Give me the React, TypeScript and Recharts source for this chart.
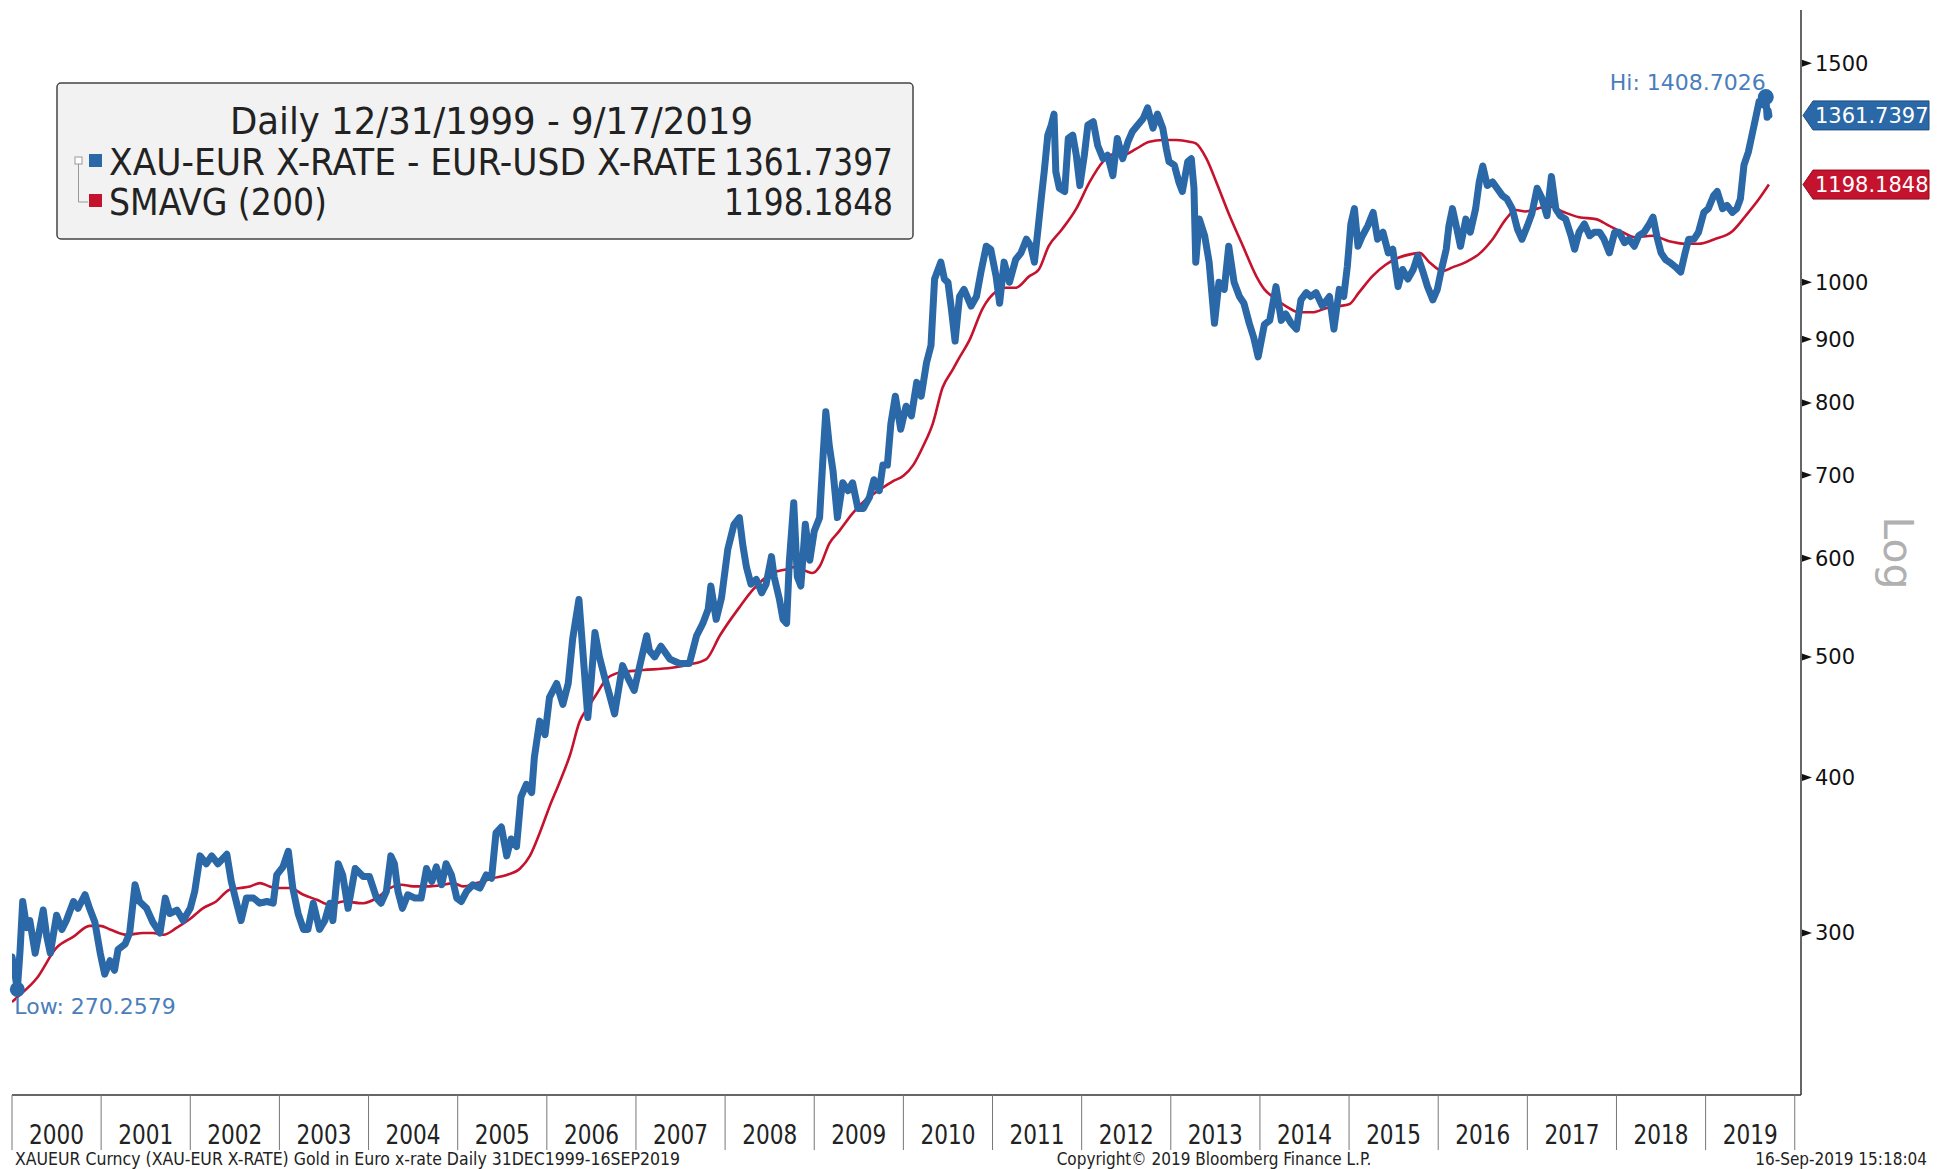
import React from "react";
import { LineChart, Line, XAxis, YAxis, ReferenceDot } from "recharts";

// ---------- data ----------
const goldT = [
  2000.0, 2000.03, 2000.06, 2000.09, 2000.12, 2000.165, 2000.2, 2000.26, 2000.31, 2000.35, 2000.39, 2000.43, 2000.5, 2000.56, 2000.61, 2000.69, 2000.74, 2000.82, 2000.87, 2000.93, 2000.99,
  2001.04, 2001.1, 2001.15, 2001.19, 2001.27, 2001.32, 2001.38, 2001.43, 2001.51, 2001.58, 2001.66, 2001.72, 2001.77, 2001.85, 2001.92,
  2002.0, 2002.05, 2002.11, 2002.18, 2002.24, 2002.31, 2002.41, 2002.46, 2002.52, 2002.57, 2002.63, 2002.71, 2002.78, 2002.86, 2002.93, 2002.97,
  2003.04, 2003.1, 2003.15, 2003.21, 2003.27, 2003.32, 2003.38, 2003.45, 2003.51, 2003.565, 2003.6, 2003.66, 2003.71, 2003.77, 2003.85, 2003.94,
  2004.01, 2004.09, 2004.14, 2004.2, 2004.25, 2004.29, 2004.33, 2004.38, 2004.44, 2004.52, 2004.59, 2004.65, 2004.71, 2004.76, 2004.82, 2004.87, 2004.93, 2004.99,
  2005.04, 2005.1, 2005.17, 2005.25, 2005.32, 2005.38, 2005.43, 2005.49, 2005.55, 2005.6, 2005.66, 2005.71, 2005.77, 2005.83, 2005.86, 2005.92, 2005.98,
  2006.03, 2006.11, 2006.18, 2006.24, 2006.29, 2006.36, 2006.4, 2006.46, 2006.5, 2006.54, 2006.59, 2006.65, 2006.7, 2006.76, 2006.82, 2006.85, 2006.91, 2006.98,
  2007.06, 2007.12, 2007.15, 2007.21, 2007.28, 2007.38, 2007.49, 2007.6, 2007.68, 2007.75, 2007.81, 2007.84, 2007.9, 2007.96,
  2008.03, 2008.1, 2008.16, 2008.2, 2008.24, 2008.29, 2008.35, 2008.41, 2008.46, 2008.52, 2008.55, 2008.61, 2008.65, 2008.69, 2008.72, 2008.77, 2008.81, 2008.85, 2008.9, 2008.95,
  2009.0, 2009.06, 2009.1, 2009.13, 2009.17, 2009.21, 2009.26, 2009.32, 2009.38, 2009.43, 2009.49, 2009.55, 2009.62, 2009.67, 2009.73, 2009.77, 2009.82, 2009.86, 2009.91, 2009.97,
  2010.03, 2010.09, 2010.15, 2010.2, 2010.26, 2010.31, 2010.35, 2010.42, 2010.46, 2010.5, 2010.54, 2010.58, 2010.63, 2010.68, 2010.76, 2010.82, 2010.87, 2010.93, 2010.98,
  2011.04, 2011.08, 2011.13, 2011.19, 2011.26, 2011.32, 2011.38, 2011.43, 2011.47, 2011.51, 2011.55, 2011.58, 2011.62, 2011.66, 2011.69, 2011.71, 2011.75, 2011.81, 2011.85, 2011.9, 2011.94, 2011.98,
  2012.03, 2012.07, 2012.13, 2012.18, 2012.24, 2012.29, 2012.35, 2012.4, 2012.46, 2012.52, 2012.57, 2012.63, 2012.69, 2012.74, 2012.8, 2012.85, 2012.91, 2012.95, 2012.98,
  2013.04, 2013.09, 2013.13, 2013.19, 2013.23, 2013.26, 2013.28, 2013.32, 2013.38, 2013.43, 2013.49, 2013.54, 2013.6, 2013.65, 2013.71, 2013.77, 2013.82, 2013.88, 2013.93, 2013.98,
  2014.05, 2014.11, 2014.18, 2014.24, 2014.29, 2014.35, 2014.41, 2014.46, 2014.52, 2014.57, 2014.63, 2014.7, 2014.78, 2014.83, 2014.89, 2014.94, 2014.98,
  2015.02, 2015.06, 2015.1, 2015.15, 2015.21, 2015.27, 2015.32, 2015.38, 2015.44, 2015.49, 2015.55, 2015.6, 2015.66, 2015.72, 2015.77, 2015.83, 2015.88, 2015.94, 2015.99,
  2016.03, 2016.09, 2016.12, 2016.16, 2016.21, 2016.25, 2016.31, 2016.36, 2016.42, 2016.46, 2016.5, 2016.55, 2016.61, 2016.66, 2016.72, 2016.77, 2016.83, 2016.89, 2016.94,
  2017.0, 2017.05, 2017.11, 2017.16, 2017.22, 2017.27, 2017.32, 2017.37, 2017.43, 2017.49, 2017.53, 2017.58, 2017.64, 2017.7, 2017.75, 2017.81, 2017.86, 2017.92, 2017.98,
  2018.03, 2018.09, 2018.14, 2018.2, 2018.25, 2018.31, 2018.37, 2018.41, 2018.46, 2018.5, 2018.55, 2018.61, 2018.66, 2018.72, 2018.77, 2018.81, 2018.87, 2018.92, 2018.98,
  2019.03, 2019.09, 2019.13, 2019.19, 2019.24, 2019.3, 2019.35, 2019.39, 2019.43, 2019.48, 2019.52, 2019.56, 2019.6, 2019.64, 2019.675, 2019.69, 2019.7, 2019.71,
];
const goldV = [
  287, 279, 270.26, 290, 318, 303, 307, 289, 302, 313, 298, 289, 310, 302, 307, 318, 314, 322, 314, 306, 289,
  278, 285, 280, 291, 294, 300, 328, 318, 314, 306, 300, 320, 311, 313, 307,
  314, 324, 346, 341, 346, 341, 347, 330, 317, 307, 320, 320, 317, 318, 317, 334,
  339, 349, 326, 311, 302, 302, 317, 302, 307, 317, 307, 341, 334, 314, 338, 333,
  333, 320, 317, 324, 346, 341, 324, 314, 322, 320, 320, 338, 330, 339, 328, 341, 334, 320,
  318, 324, 328, 326, 334, 332, 361, 365, 346, 357, 352, 386, 395, 389, 415, 444, 433,
  464, 476, 458, 476, 517, 556, 510, 447, 481, 523, 500, 481, 467, 450, 478, 492, 481, 470,
  498, 520, 506, 500, 510, 498, 494, 494, 520, 532, 546, 570, 536, 558,
  610, 639, 647, 614, 590, 572, 577, 563, 572, 602, 580, 556, 536, 532, 596, 665, 580, 570, 639, 598,
  631, 647, 727, 787, 738, 706, 647, 690, 680, 690, 658, 658, 672, 694, 680, 713, 713, 770, 810, 762,
  795, 781, 831, 810, 862, 890, 1006, 1038, 1006, 1000, 950, 897, 974, 987, 957, 974, 1019, 1069, 1063,
  1011, 962, 1038, 1000, 1043, 1056, 1083, 1069, 1038, 1103, 1174, 1227, 1313, 1338, 1365, 1227, 1190, 1183, 1305, 1313, 1265, 1196,
  1265, 1338, 1346, 1288, 1257, 1265, 1218, 1305, 1257, 1297, 1322, 1338, 1354, 1381, 1330, 1365, 1330, 1280, 1250,
  1242, 1204, 1183, 1250, 1257, 1190, 1038, 1124, 1090, 1038, 927, 1000, 987, 1069, 1000, 974, 962, 927, 903, 871,
  925, 932, 992, 932, 943, 927, 917, 968, 981, 974, 981, 957, 974, 917, 987, 974, 1029,
  1114, 1146, 1069, 1090, 1110, 1138, 1083, 1097, 1056, 1063, 992, 1024, 1006, 1024, 1050, 1019, 992, 968, 987,
  1019, 1063, 1110, 1146, 1103, 1069, 1124, 1097, 1146, 1204, 1240, 1196, 1204, 1190, 1174, 1167, 1146, 1103, 1083,
  1110, 1135, 1190, 1170, 1131, 1216, 1145, 1131, 1124, 1090, 1063, 1097, 1114, 1090, 1097, 1097, 1083, 1056, 1097,
  1097, 1076, 1083, 1069, 1090, 1097, 1114, 1128, 1083, 1056, 1043, 1036, 1029, 1019, 1056, 1083, 1083, 1097, 1138,
  1146, 1174, 1183, 1146, 1153, 1138, 1146, 1167, 1242, 1273, 1313, 1354, 1397, 1389, 1408.7026, 1357, 1375, 1361.7397,
];

const smaT = [
  2000.0, 2000.05, 2000.28, 2000.5, 2000.69, 2000.87, 2000.99, 2001.1, 2001.29, 2001.47, 2001.58, 2001.7, 2001.85,
  2002.0, 2002.14, 2002.29, 2002.44, 2002.56, 2002.67, 2002.78, 2002.89, 2002.97, 2003.12, 2003.27, 2003.42, 2003.57, 2003.71, 2003.94,
  2004.09, 2004.24, 2004.37, 2004.5, 2004.69, 2004.84, 2004.95, 2005.06, 2005.21, 2005.4, 2005.55, 2005.7, 2005.81, 2005.92,
  2006.03, 2006.14, 2006.26, 2006.37, 2006.46, 2006.56, 2006.67, 2006.78, 2006.93, 2007.08, 2007.4, 2007.6, 2007.79, 2007.94,
  2008.16, 2008.31, 2008.53, 2008.69, 2008.8, 2008.91, 2008.98, 2009.06, 2009.17, 2009.28, 2009.43, 2009.58, 2009.73, 2009.88,
  2010.0, 2010.11, 2010.22, 2010.33, 2010.44, 2010.55, 2010.62, 2010.74, 2010.89, 2011.04, 2011.15, 2011.26, 2011.41, 2011.52, 2011.63, 2011.78, 2011.94,
  2012.09, 2012.24, 2012.35, 2012.46, 2012.61, 2012.76, 2012.91, 2013.06, 2013.21, 2013.28, 2013.4, 2013.51, 2013.66, 2013.81, 2013.96,
  2014.05, 2014.14, 2014.29, 2014.44, 2014.59, 2014.74, 2014.89, 2015.0, 2015.11, 2015.26, 2015.41, 2015.56, 2015.71, 2015.79, 2015.9,
  2016.05, 2016.16, 2016.31, 2016.46, 2016.61, 2016.76, 2016.87, 2016.98, 2017.11, 2017.24, 2017.39, 2017.58, 2017.77, 2017.92,
  2018.07, 2018.21, 2018.4, 2018.59, 2018.77, 2018.92, 2019.1, 2019.3, 2019.45, 2019.6, 2019.71,
];
const smaV = [
  264, 266, 276, 292, 298, 304, 304, 302, 299, 300, 300, 299, 303,
  308, 314, 318, 325, 326, 327, 329, 327, 326, 326, 322, 319, 316, 318, 317,
  320, 326, 328, 327, 327, 328, 329, 327, 329, 332, 334, 338, 346, 361,
  379, 396, 417, 444, 455, 467, 480, 485, 487, 488, 490, 493, 498, 520,
  548, 566, 584, 588, 591, 586, 584, 591, 617, 631, 652, 669, 681, 692,
  699, 713, 738, 770, 823, 850, 868, 898, 953, 983, 990, 990, 1011, 1024, 1069, 1103, 1146,
  1204, 1250, 1267, 1265, 1280, 1297, 1301, 1301, 1297, 1293, 1257, 1204, 1131, 1069, 1011,
  987, 974, 957, 946, 946, 953, 957, 960, 981, 1011, 1033, 1047, 1054, 1056, 1038,
  1021, 1028, 1038, 1054, 1083, 1124, 1143, 1140, 1146, 1151, 1140, 1128, 1124, 1110,
  1097, 1087, 1090, 1079, 1074, 1074, 1083, 1099, 1131, 1167, 1198.1848,
];

const yTicks = [300, 400, 500, 600, 700, 800, 900, 1000, 1500];
const yearTicks = [2000, 2001, 2002, 2003, 2004, 2005, 2006, 2007, 2008, 2009, 2010, 2011, 2012, 2013, 2014, 2015, 2016, 2017, 2018, 2019, 2020];

const hiPoint = { t: 2019.675, v: 1408.7026, label: "Hi: 1408.7026" };
const lowPoint = { t: 2000.06, v: 270.2579, label: "Low: 270.2579" };
const lastGold = { v: 1361.7397, label: "1361.7397" };
const lastSma = { v: 1198.1848, label: "1198.1848" };

const legendTitle = "Daily 12/31/1999 - 9/17/2019";
const legendSeries1 = "XAU-EUR X-RATE - EUR-USD X-RATE";
const legendSeries2 = "SMAVG (200)";
const footerLeft = "XAUEUR Curncy (XAU-EUR X-RATE) Gold in Euro x-rate  Daily 31DEC1999-16SEP2019";
const footerMid = "Copyright\u00A9 2019 Bloomberg Finance L.P.";
const footerRight = "16-Sep-2019 15:18:04";

// ---------- styles ----------
const W = 1948;
const H = 1169;
const X_MIN = 2000;
const X_MAX = 2020.07;
const Y_MIN = 222.3;
const Y_MAX = 1655;
const PLOT_LEFT = 12;
const PLOT_RIGHT = 1801;
const PX_PER_YEAR = (PLOT_RIGHT - PLOT_LEFT) / (X_MAX - X_MIN);

const BLUE = "#2a68a7";
const RED = "#c5122d";
const LABEL_BLUE = "#4a7ebb";
const NARROW = "'Liberation Sans Narrow', 'Arial Narrow', 'DejaVu Sans Condensed', sans-serif";
const SANS = "'DejaVu Sans', Verdana, sans-serif";

const goldData = goldT.map((t, i) => ({ t, v: goldV[i] }));
const smaData = smaT.map((t, i) => ({ t, v: smaV[i] }));

const YearTick = (props: any) => {
  const { x, y, payload } = props;
  const v = payload.value as number;
  return (
    <g>
      <line x1={x} y1={y} x2={x} y2={y + 55} stroke="#777" strokeWidth={1} />
      {v < 2020 && (
        <text
          x={x + PX_PER_YEAR / 2 - 27.5}
          y={y + 49}
          textLength={55}
          lengthAdjust="spacingAndGlyphs"
          fontFamily={NARROW}
          fontSize={27}
          fill="#222"
        >
          {String(v)}
        </text>
      )}
    </g>
  );
};

const PriceTick = (props: any) => {
  const { x, y, payload } = props;
  return (
    <g>
      <polygon points={`${x + 1},${y - 3.5} ${x + 11},${y} ${x + 1},${y + 3.5}`} fill="#111" />
      <text x={x + 14} y={y + 7.5} fontFamily={SANS} fontSize={21} fill="#111">
        {String(payload.value)}
      </text>
    </g>
  );
};

const makeTag = (fill: string, stroke: string, label: string) => (props: any) => {
  const { cx, cy } = props;
  const h = 14.5;
  return (
    <g>
      <polygon
        points={`${cx + 2},${cy} ${cx + 12},${cy - h} ${cx + 128},${cy - h} ${cx + 128},${cy + h} ${cx + 12},${cy + h}`}
        fill={fill}
        stroke={stroke}
        strokeWidth={1}
      />
      <text x={cx + 14} y={cy + 7.5} fontFamily={SANS} fontSize={21} fill="#fff">
        {label}
      </text>
    </g>
  );
};

const HiShape = (props: any) => {
  const { cx, cy } = props;
  return (
    <g>
      <circle cx={cx} cy={cy} r={8} fill={BLUE} />
      <text x={cx} y={cy - 7} textAnchor="end" fontFamily={SANS} fontSize={22} fill={LABEL_BLUE}>
        {hiPoint.label}
      </text>
    </g>
  );
};

const LowShape = (props: any) => {
  const { cx, cy } = props;
  return (
    <g>
      <circle cx={cx} cy={cy} r={7.5} fill={BLUE} />
      <text x={cx - 3} y={cy + 25} textAnchor="start" fontFamily={SANS} fontSize={22} fill={LABEL_BLUE}>
        {lowPoint.label}
      </text>
    </g>
  );
};

export default function App() {
  return (
    <div style={{ position: "absolute", left: 0, top: 0, width: W, height: H, background: "#fff", overflow: "hidden" }}>
      <LineChart width={W} height={H} margin={{ top: 10, right: 0, bottom: 0, left: PLOT_LEFT }}>
        <XAxis
          dataKey="t"
          type="number"
          domain={[X_MIN, X_MAX]}
          allowDataOverflow
          ticks={yearTicks}
          interval={0}
          tick={<YearTick />}
          tickLine={false}
          tickSize={0}
          tickMargin={0}
          height={74}
          axisLine={{ stroke: "#333", strokeWidth: 1.5 }}
        />
        <YAxis
          dataKey="v"
          orientation="right"
          scale="log"
          type="number"
          domain={[Y_MIN, Y_MAX]}
          allowDataOverflow
          ticks={yTicks}
          interval={0}
          tick={<PriceTick />}
          tickLine={false}
          tickSize={0}
          tickMargin={0}
          width={W - PLOT_RIGHT}
          axisLine={{ stroke: "#333", strokeWidth: 1.5 }}
        />
        <Line
          data={smaData}
          dataKey="v"
          type="monotone"
          stroke={RED}
          strokeWidth={2.6}
          dot={false}
          activeDot={false}
          isAnimationActive={false}
        />
        <Line
          data={goldData}
          dataKey="v"
          type="linear"
          stroke={BLUE}
          strokeWidth={7}
          strokeLinejoin="round"
          strokeLinecap="round"
          dot={false}
          activeDot={false}
          isAnimationActive={false}
        />
        <ReferenceDot x={hiPoint.t} y={hiPoint.v} r={8} ifOverflow="visible" shape={HiShape} />
        <ReferenceDot x={lowPoint.t} y={lowPoint.v} r={7.5} ifOverflow="visible" shape={LowShape} />
        <ReferenceDot x={X_MAX} y={lastGold.v} r={1} ifOverflow="visible" shape={makeTag(BLUE, "#1d4f80", lastGold.label)} />
        <ReferenceDot x={X_MAX} y={lastSma.v} r={1} ifOverflow="visible" shape={makeTag(RED, "#8a0c1f", lastSma.label)} />
      </LineChart>

      <svg width={W} height={H} style={{ position: "absolute", left: 0, top: 0, pointerEvents: "none" }}>
        <rect x={57} y={83} width={856} height={156} rx={4} fill="#f2f2f2" stroke="#444" strokeWidth={1.5} />
        <text x={230} y={134} textLength={523} lengthAdjust="spacingAndGlyphs" fontFamily={NARROW} fontSize={38} fill="#222">
          {legendTitle}
        </text>
        <rect x={75} y={157} width={7} height={7} fill="#fff" stroke="#999" strokeWidth={1} />
        <line x1={78.5} y1={164} x2={78.5} y2={202} stroke="#999" strokeWidth={1} />
        <line x1={78.5} y1={202} x2={88} y2={202} stroke="#999" strokeWidth={1} />
        <rect x={89} y={154} width={13} height={13} fill={BLUE} />
        <text x={109} y={175} textLength={608} lengthAdjust="spacingAndGlyphs" fontFamily={NARROW} fontSize={38} fill="#222">
          {legendSeries1}
        </text>
        <text x={724} y={175} textLength={169} lengthAdjust="spacingAndGlyphs" fontFamily={NARROW} fontSize={38} fill="#222">
          {lastGold.label}
        </text>
        <rect x={89} y={194} width={13} height={13} fill={RED} />
        <text x={109} y={215} textLength={218} lengthAdjust="spacingAndGlyphs" fontFamily={NARROW} fontSize={38} fill="#222">
          {legendSeries2}
        </text>
        <text x={724} y={215} textLength={169} lengthAdjust="spacingAndGlyphs" fontFamily={NARROW} fontSize={38} fill="#222">
          {lastSma.label}
        </text>

        <text
          x={1898}
          y={553}
          textAnchor="middle"
          dominantBaseline="central"
          transform="rotate(90 1898 553)"
          fontFamily={SANS}
          fontSize={41}
          fill="#b0b0b0"
        >
          Log
        </text>

        <text x={15} y={1165} textLength={665} lengthAdjust="spacingAndGlyphs" fontFamily={NARROW} fontSize={17} fill="#222">
          {footerLeft}
        </text>
        <text x={1214} y={1165} textAnchor="middle" fontFamily={NARROW} fontSize={17} fill="#222">
          {footerMid}
        </text>
        <text x={1927} y={1165} textAnchor="end" fontFamily={NARROW} fontSize={17} fill="#222">
          {footerRight}
        </text>
      </svg>
    </div>
  );
}
